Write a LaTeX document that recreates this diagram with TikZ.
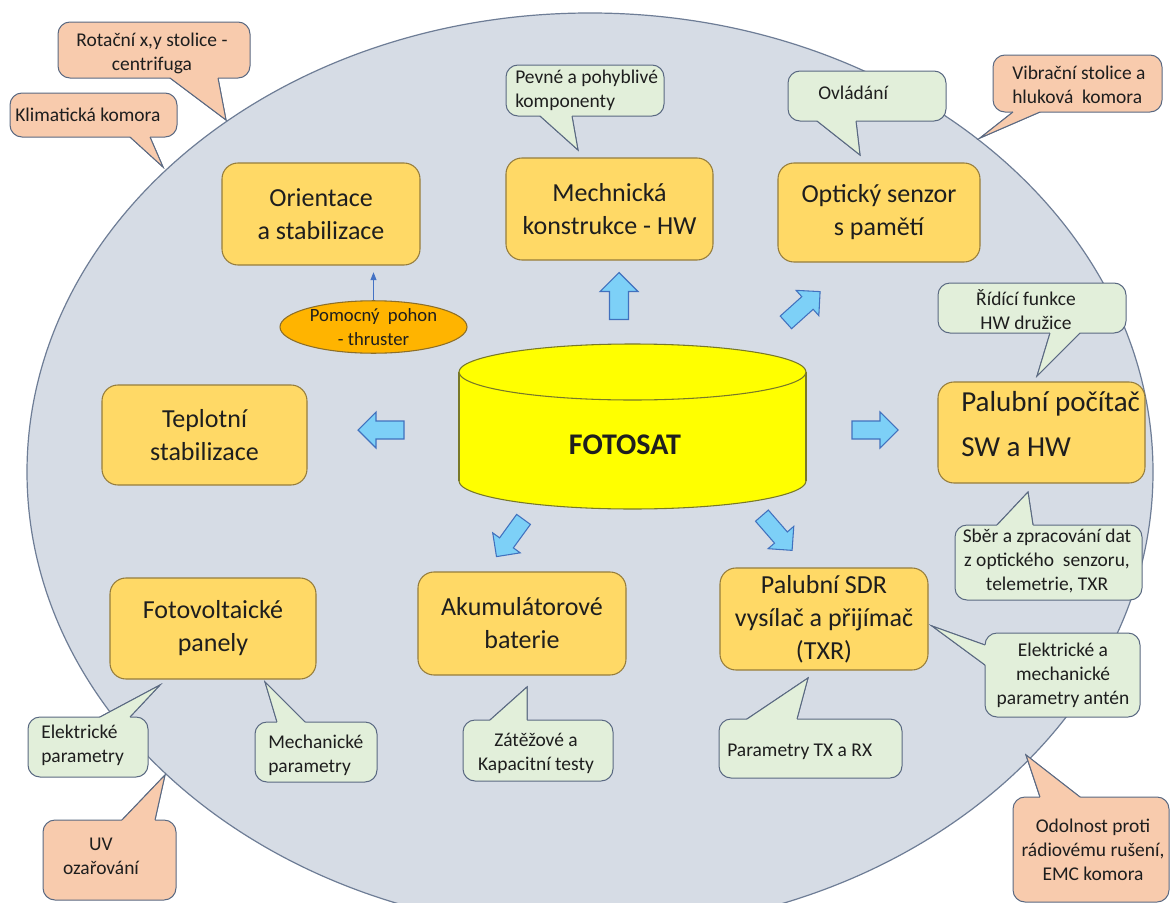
\documentclass[tikz,border=0pt]{standalone}
\usepackage{fontspec}
\setmainfont{Carlito}
\usetikzlibrary{arrows.meta,shapes.geometric}

\definecolor{worldfill}{RGB}{214,220,229}
\definecolor{worldline}{RGB}{110,125,150}
\definecolor{boxfill}{RGB}{255,217,102}
\definecolor{boxline}{RGB}{150,125,60}
\definecolor{notegreen}{RGB}{226,239,218}
\definecolor{notesalmon}{RGB}{248,203,173}
\definecolor{noteline}{RGB}{90,105,130}
\definecolor{arrowfill}{RGB}{125,208,247}
\definecolor{arrowline}{RGB}{65,113,190}
\definecolor{thrfill}{RGB}{255,180,0}
\definecolor{thrline}{RGB}{140,110,40}
\definecolor{thrarrow}{RGB}{68,114,196}
\definecolor{cylfill}{RGB}{255,255,0}
\definecolor{cylline}{RGB}{120,120,40}
\definecolor{ink}{RGB}{30,30,30}

% block arrow: centre x, centre y, direction (deg), length, head width
\newcommand\blockarrow[5]{%
  \draw[bigarrow, shift={(#1,#2)}, rotate=#3]
    ({-#4/2},{-#5/4}) -- ({#4/2-#5/2},{-#5/4}) -- ({#4/2-#5/2},{-#5/2})
    -- ({#4/2},0) -- ({#4/2-#5/2},{#5/2}) -- ({#4/2-#5/2},{#5/4})
    -- ({-#4/2},{#5/4}) -- cycle;}

% speech bubble: colour, box corners (x1,y1,x2,y2), pointer base 1, tip, base 2, inward shift
\newcommand\callout[9]{%
  \filldraw[note, fill=#1] (#6) -- (#7) -- (#8) -- cycle;
  \filldraw[note, fill=#1, rounded corners=9pt] (#2,#3) rectangle (#4,#5);
  \fill[#1] ([shift={#9}]#6) -- (#6) -- (#7) -- (#8) -- ([shift={#9}]#8) -- cycle;
  \draw[note, line join=miter] (#6) -- (#7) -- (#8);}

\begin{document}
\begin{tikzpicture}[x=0.75pt,y=-0.75pt,
  unit box/.style={draw=boxline, fill=boxfill, line width=0.8pt, rounded corners=12pt,
    align=center, text=ink, font=\fontsize{19.5}{24.75}\selectfont, inner sep=2pt},
  note/.style={draw=noteline, line width=0.75pt},
  notetext/.style={text=ink, font=\fontsize{14.6}{18}\selectfont, inner sep=0pt},
  bigarrow/.style={draw=arrowline, fill=arrowfill, line width=0.8pt, line join=miter},
]
\useasboundingbox (0,0) rectangle (1171,903);
\fill[white] (0,0) rectangle (1171,903);
\clip (0,0) rectangle (1171,903);

% satellite envelope
\filldraw[fill=worldfill, draw=worldline, line width=0.9pt]
  (590,472) ellipse [x radius=563, y radius=459];

% test facilities and sub-tasks
\callout{notesalmon}{58}{22}{250}{78}{170,78}{226,120}{218,78}{(0,-3)}
\node[notetext, align=center] (rot) at (152,53.5) {Rotační x,y stolice -\\centrifuga};

\callout{notesalmon}{10}{93}{177}{137}{130,137}{163,167}{150,137}{(0,-3)}
\node[notetext, anchor=west] (klim) at (15,115) {Klimatická komora};

\callout{notegreen}{506}{65}{664}{116}{540,116}{578,150}{572,116}{(0,-3)}
\node[notetext, anchor=west, align=left] (pevne) at (515,90.5) {Pevné a pohyblivé\\komponenty};

\callout{notegreen}{788}{71}{946}{121}{817,121}{860,155}{856,121}{(0,-3)}
\node[notetext, anchor=west] (ovl) at (818,93) {Ovládání};

\callout{notesalmon}{993}{55}{1162}{112}{1013,112}{980,138}{1040,112}{(0,-3)}
\node[notetext, anchor=west, align=left] (vib) at (1012,85) {Vibrační stolice a\\hluková\ \ komora};

\callout{notegreen}{938}{283}{1126}{333}{1050,333}{1037,376}{1080,333}{(0,-3)}
\node[notetext, align=center] (ridi) at (1026,309.5) {Řídící funkce\\HW družice};

\callout{notegreen}{955}{525}{1142}{600}{997,525}{1028,492}{1033,525}{(0,3)}
\node[notetext, align=center] (sber) at (1047,561) {Sběr a zpracování dat\\z optického\ \ senzoru,\\telemetrie, TXR};

\callout{notegreen}{985}{633}{1140}{717}{985,645}{932,626}{985,665}{(3,0)}
\node[notetext, align=center] (elmech) at (1063,675) {Elektrické a\\mechanické\\parametry antén};

\callout{notegreen}{28}{717}{148}{777}{100,717}{160,685}{130,717}{(0,3)}
\node[notetext, anchor=west, align=left] (elpar) at (41,745.5) {Elektrické\\parametry};

\callout{notegreen}{255}{722}{377}{782}{277,722}{265,682}{305,722}{(0,3)}
\node[notetext, anchor=west, align=left] (mechpar) at (268,755.5) {Mechanické\\parametry};

\callout{notesalmon}{43}{820}{176}{900}{122,820}{165,775}{155,820}{(0,3)}
\node[notetext, align=center] (uv) at (101,856.5) {UV\\ozařování};

\callout{notegreen}{463}{720}{613}{781}{490,720}{527,687}{527,720}{(0,3)}
\node[notetext, align=center] (zat) at (536,753) {Zátěžové a\\Kapacitní testy};

\callout{notegreen}{719}{719}{902}{778}{747,719}{808,678}{797,719}{(0,3)}
\node[notetext, anchor=west] (txrx) at (727,752) {Parametry TX a RX};

\callout{notesalmon}{1013}{797}{1169}{902}{1040,797}{1026,755}{1080,797}{(0,3)}
\node[notetext, align=center] (odol) at (1093,850) {Odolnost proti\\rádiovému rušení,\\EMC komora};

% subsystems
\node[unit box, minimum width=148.5pt, minimum height=76.5pt] (orient) at (321,214) {Orientace\\a stabilizace};
\node[unit box, minimum width=155.25pt, minimum height=76.5pt] (mech) at (609.5,209) {Mechnická\\konstrukce - HW};
\node[unit box, minimum width=151.5pt, minimum height=74.25pt] (opt) at (879,212.5) {Optický senzor\\s pamětí};
\node[unit box, minimum width=153.75pt, minimum height=75pt] (tepl) at (204.5,435) {Teplotní\\stabilizace};
\node[unit box, minimum width=155.25pt, minimum height=75.75pt] (palub) at (1041.5,432.5) {};
\node[text=ink, font=\fontsize{21.75}{33.75}\selectfont, align=left, anchor=west, inner sep=0pt]
  (palubtext) at (961,424.5) {Palubní počítač\\SW a HW};
\node[unit box, minimum width=154.5pt, minimum height=75.75pt] (foto) at (213,628.5) {Fotovoltaické\\panely};
\node[unit box, minimum width=156pt, minimum height=77.25pt] (akum) at (522,623.5) {Akumulátorové\\baterie};
\node[unit box, minimum width=156pt, minimum height=76.5pt] (sdr) at (824,619) {Palubní SDR\\vysílač a přijímač\\(TXR)};

% the satellite body
\filldraw[fill=cylfill, draw=cylline, line width=0.8pt] (632.5,481) ellipse [x radius=173.5, y radius=28];
\fill[cylfill] (459,372) rectangle (806,481);
\draw[cylline, line width=0.8pt] (459,372) -- (459,481) (806,372) -- (806,481);
\filldraw[fill=cylfill, draw=cylline, line width=0.8pt] (632.5,372) ellipse [x radius=173.5, y radius=28];
\node[text=ink, font=\bfseries\fontsize{22.5}{26}\selectfont] (fotosat) at (625,445) {FOTOSAT};

% block arrows from the body to the subsystems
\blockarrow{619}{296}{90}{47}{38}
\blockarrow{381}{430}{180}{46}{36}
\blockarrow{875}{430}{0}{46}{36}
\blockarrow{803}{307}{42}{46}{34}
\blockarrow{510}{538}{234}{46}{34}
\blockarrow{777}{533}{-49}{46}{34}

% auxiliary thruster
\node[ellipse, draw=thrline, fill=thrfill, line width=0.8pt, minimum width=140.25pt, minimum height=36pt,
  inner sep=0pt, align=center, text=ink, font=\fontsize{14}{18}\selectfont] (thr) at (373.5,327)
  {Pomocný\ \ pohon\\- thruster};
\draw[thrarrow, line width=0.8pt, -{Triangle[length=6pt,width=4.5pt]}, shorten >=5pt]
  (thr.north) -- (thr.north |- orient.south);
\end{tikzpicture}
\end{document}
